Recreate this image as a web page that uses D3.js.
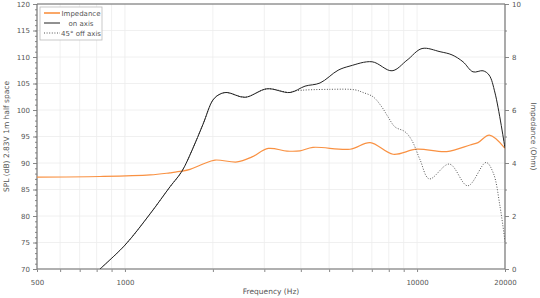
<!DOCTYPE html>
<html>
<head>
<meta charset="UTF-8">
<title>SPL and impedance</title>
<script src="https://d3js.org/d3.v7.min.js"></script>
<style>
body { margin: 0; background: #fff; }
text { font-family: "DejaVu Sans", sans-serif; fill: #555; }
</style>
</head>
<body>
<div id="chart"></div>
<script>

// data

var onFreq = [821, 1000, 1219, 1426, 1565, 1697, 1850, 2002, 2116, 2236, 2577, 3064, 3673, 4135, 4654, 5365, 5895, 7015, 8210, 9240, 10400, 11985, 13170, 14360, 15540, 16820, 17640, 18490, 20000]
var onSpl  = [70.0, 74.5, 80.4, 85.5, 88.4, 92.4, 97.3, 101.9, 103.0, 103.3, 102.4, 104.0, 103.3, 104.5, 105.1, 107.5, 108.3, 109.1, 107.4, 109.4, 111.6, 111.0, 110.4, 109.1, 107.2, 107.4, 106.6, 103.2, 92.8]

var offFreq = [821, 1000, 1219, 1426, 1565, 1697, 1850, 2002, 2116, 2236, 2577, 3064, 3673, 3822, 5036, 6134, 6532, 7068, 7568, 7955, 8407, 9093, 9590, 10240, 11015, 12900, 14910, 17220, 18240, 19230, 20000]
var offSpl  = [70.0, 74.5, 80.4, 85.5, 88.4, 92.4, 97.3, 101.9, 103.0, 103.3, 102.4, 104.0, 103.3, 103.6, 103.9, 103.8, 103.3, 102.5, 100.6, 98.7, 96.8, 95.9, 94.3, 90.6, 87.0, 89.8, 85.7, 90.1, 88.1, 81.8, 75.2]

var impFreq = [500, 821, 1219, 1426, 1565, 1670, 1850, 2033, 2422, 2723, 3095, 3587, 3976, 4405, 5895, 6910, 8275, 9975, 12630, 15190, 16170, 17680, 20000]
var impOhm  = [3.47, 3.49, 3.55, 3.63, 3.69, 3.76, 3.96, 4.11, 4.04, 4.23, 4.55, 4.45, 4.46, 4.59, 4.52, 4.77, 4.33, 4.52, 4.43, 4.68, 4.77, 5.05, 4.55]

var freqTicks   = [500, 600, 700, 800, 900, 1000, 2000, 3000, 4000, 5000, 6000, 7000, 8000, 9000, 10000, 20000]
var freqLabels  = [500, 1000, 10000, 20000]
var splTicks    = [70, 75, 80, 85, 90, 95, 100, 105, 110, 115, 120]
var ohmTicks    = [0, 2, 4, 6, 8, 10]

var legendNames = ["Impedance", "on axis", "45\u00b0 off axis"]

// layout

var width = 540, height = 298
var margin = { left: 37, right: 35, top: 4, bottom: 29 }
var x0 = margin.left, x1 = width - margin.right
var y0 = height - margin.bottom, y1 = margin.top

var x = d3.scaleLog().domain([500, 20000]).range([x0, x1])
var ySpl = d3.scaleLinear().domain([70, 120]).range([y0, y1])
var yOhm = d3.scaleLinear().domain([0, 10]).range([y0, y1])

var svg = d3.select("#chart").append("svg")
	.attr("width", width)
	.attr("height", height)

svg.append("defs").append("clipPath").attr("id", "plot")
	.append("rect").attr("x", x0).attr("y", y1).attr("width", x1 - x0).attr("height", y0 - y1)

// grid
svg.append("g").selectAll("line").data(freqTicks).enter().append("line")
	.attr("x1", d => x(d)).attr("x2", d => x(d))
	.attr("y1", y1).attr("y2", y0)
	.attr("stroke", "#ececec").attr("stroke-width", 0.8)

svg.append("g").selectAll("line").data(splTicks).enter().append("line")
	.attr("x1", x0).attr("x2", x1)
	.attr("y1", d => ySpl(d)).attr("y2", d => ySpl(d))
	.attr("stroke", "#ececec").attr("stroke-width", 0.8)

// axes
var leftAxis = svg.append("g").attr("transform", "translate(" + x0 + ",0)")
leftAxis.call(d3.axisLeft(ySpl).tickValues(d3.range(70, 121, 1)).tickSize(2).tickFormat(""))
leftAxis.call(g => g.append("g").call(d3.axisLeft(ySpl).tickValues(splTicks).tickSize(4).tickPadding(3)))

var rightAxis = svg.append("g").attr("transform", "translate(" + x1 + ",0)")
rightAxis.call(d3.axisRight(yOhm).tickValues(d3.range(0, 11, 1)).tickSize(2).tickFormat(""))
rightAxis.call(g => g.append("g").call(d3.axisRight(yOhm).tickValues(ohmTicks).tickSize(4).tickPadding(3)))

var bottomAxis = svg.append("g").attr("transform", "translate(0," + y0 + ")")
bottomAxis.call(d3.axisBottom(x).tickValues(freqTicks).tickSize(3).tickPadding(8)
	.tickFormat(d => freqLabels.indexOf(d) >= 0 ? d : ""))

svg.selectAll(".domain").remove()
svg.selectAll(".tick line").attr("stroke", "#888")
svg.selectAll(".tick text").attr("font-size", 7).style("fill", "#555")

// frame
svg.append("line").attr("x1", x0).attr("x2", x1).attr("y1", y1).attr("y2", y1).attr("stroke", "#666").attr("stroke-width", 1.2)
svg.append("line").attr("x1", x0).attr("x2", x1).attr("y1", y0).attr("y2", y0).attr("stroke", "#999").attr("stroke-width", 1.5)
svg.append("line").attr("x1", x0).attr("x2", x0).attr("y1", y1).attr("y2", y0).attr("stroke", "#777").attr("stroke-width", 1.2)
svg.append("line").attr("x1", x1).attr("x2", x1).attr("y1", y1).attr("y2", y0).attr("stroke", "#777").attr("stroke-width", 1.2)

// curves
var curve = d3.curveCatmullRom.alpha(0.5)
var splLine = d3.line().x(d => x(d[0])).y(d => ySpl(d[1])).curve(curve)
var ohmLine = d3.line().x(d => x(d[0])).y(d => yOhm(d[1])).curve(curve)

var plot = svg.append("g").attr("clip-path", "url(#plot)")

plot.append("path").datum(d3.zip(impFreq, impOhm))
	.attr("d", ohmLine).attr("fill", "none")
	.attr("stroke", "#f99142").attr("stroke-width", 1.2)

plot.append("path").datum(d3.zip(offFreq, offSpl))
	.attr("d", splLine).attr("fill", "none")
	.attr("stroke", "#555").attr("stroke-width", 1).attr("stroke-dasharray", "1,1.6")

plot.append("path").datum(d3.zip(onFreq, onSpl))
	.attr("d", splLine).attr("fill", "none")
	.attr("stroke", "#222").attr("stroke-width", 1)

// axis titles
svg.append("text")
	.attr("transform", "translate(9," + ((y0 + y1) / 2) + ") rotate(-90)")
	.attr("text-anchor", "middle").attr("font-size", 7.5)
	.text("SPL (dB)  2.83V  1m  half space")

svg.append("text")
	.attr("transform", "translate(531," + ((y0 + y1) / 2) + ") rotate(90)")
	.attr("text-anchor", "middle").attr("font-size", 7.5)
	.text("Impedance (Ohm)")

svg.append("text")
	.attr("x", (x0 + x1) / 2).attr("y", 294)
	.attr("text-anchor", "middle").attr("font-size", 7.5)
	.text("Frequency (Hz)")

// legend
var legend = svg.append("g").attr("transform", "translate(40,7)")
legend.append("rect").attr("width", 62).attr("height", 33)
	.attr("fill", "#fff").attr("stroke", "#bbb").attr("stroke-width", 0.8)

var styles = [
	{ stroke: "#f99142", dash: null, w: 1.6 },
	{ stroke: "#222", dash: null, w: 1 },
	{ stroke: "#555", dash: "1,1.6", w: 1 }
]
var rows = legend.selectAll(".row").data(legendNames).enter().append("g")
	.attr("class", "row")
	.attr("transform", (d, i) => "translate(0," + (6 + i * 10) + ")")
rows.append("line")
	.attr("x1", 4).attr("x2", 20).attr("y1", 0).attr("y2", 0)
	.attr("stroke", (d, i) => styles[i].stroke)
	.attr("stroke-width", (d, i) => styles[i].w)
	.attr("stroke-dasharray", (d, i) => styles[i].dash)
rows.append("text")
	.attr("x", 41).attr("y", 2.5)
	.attr("text-anchor", "middle").attr("font-size", 7)
	.text(d => d)

</script>
</body>
</html>
